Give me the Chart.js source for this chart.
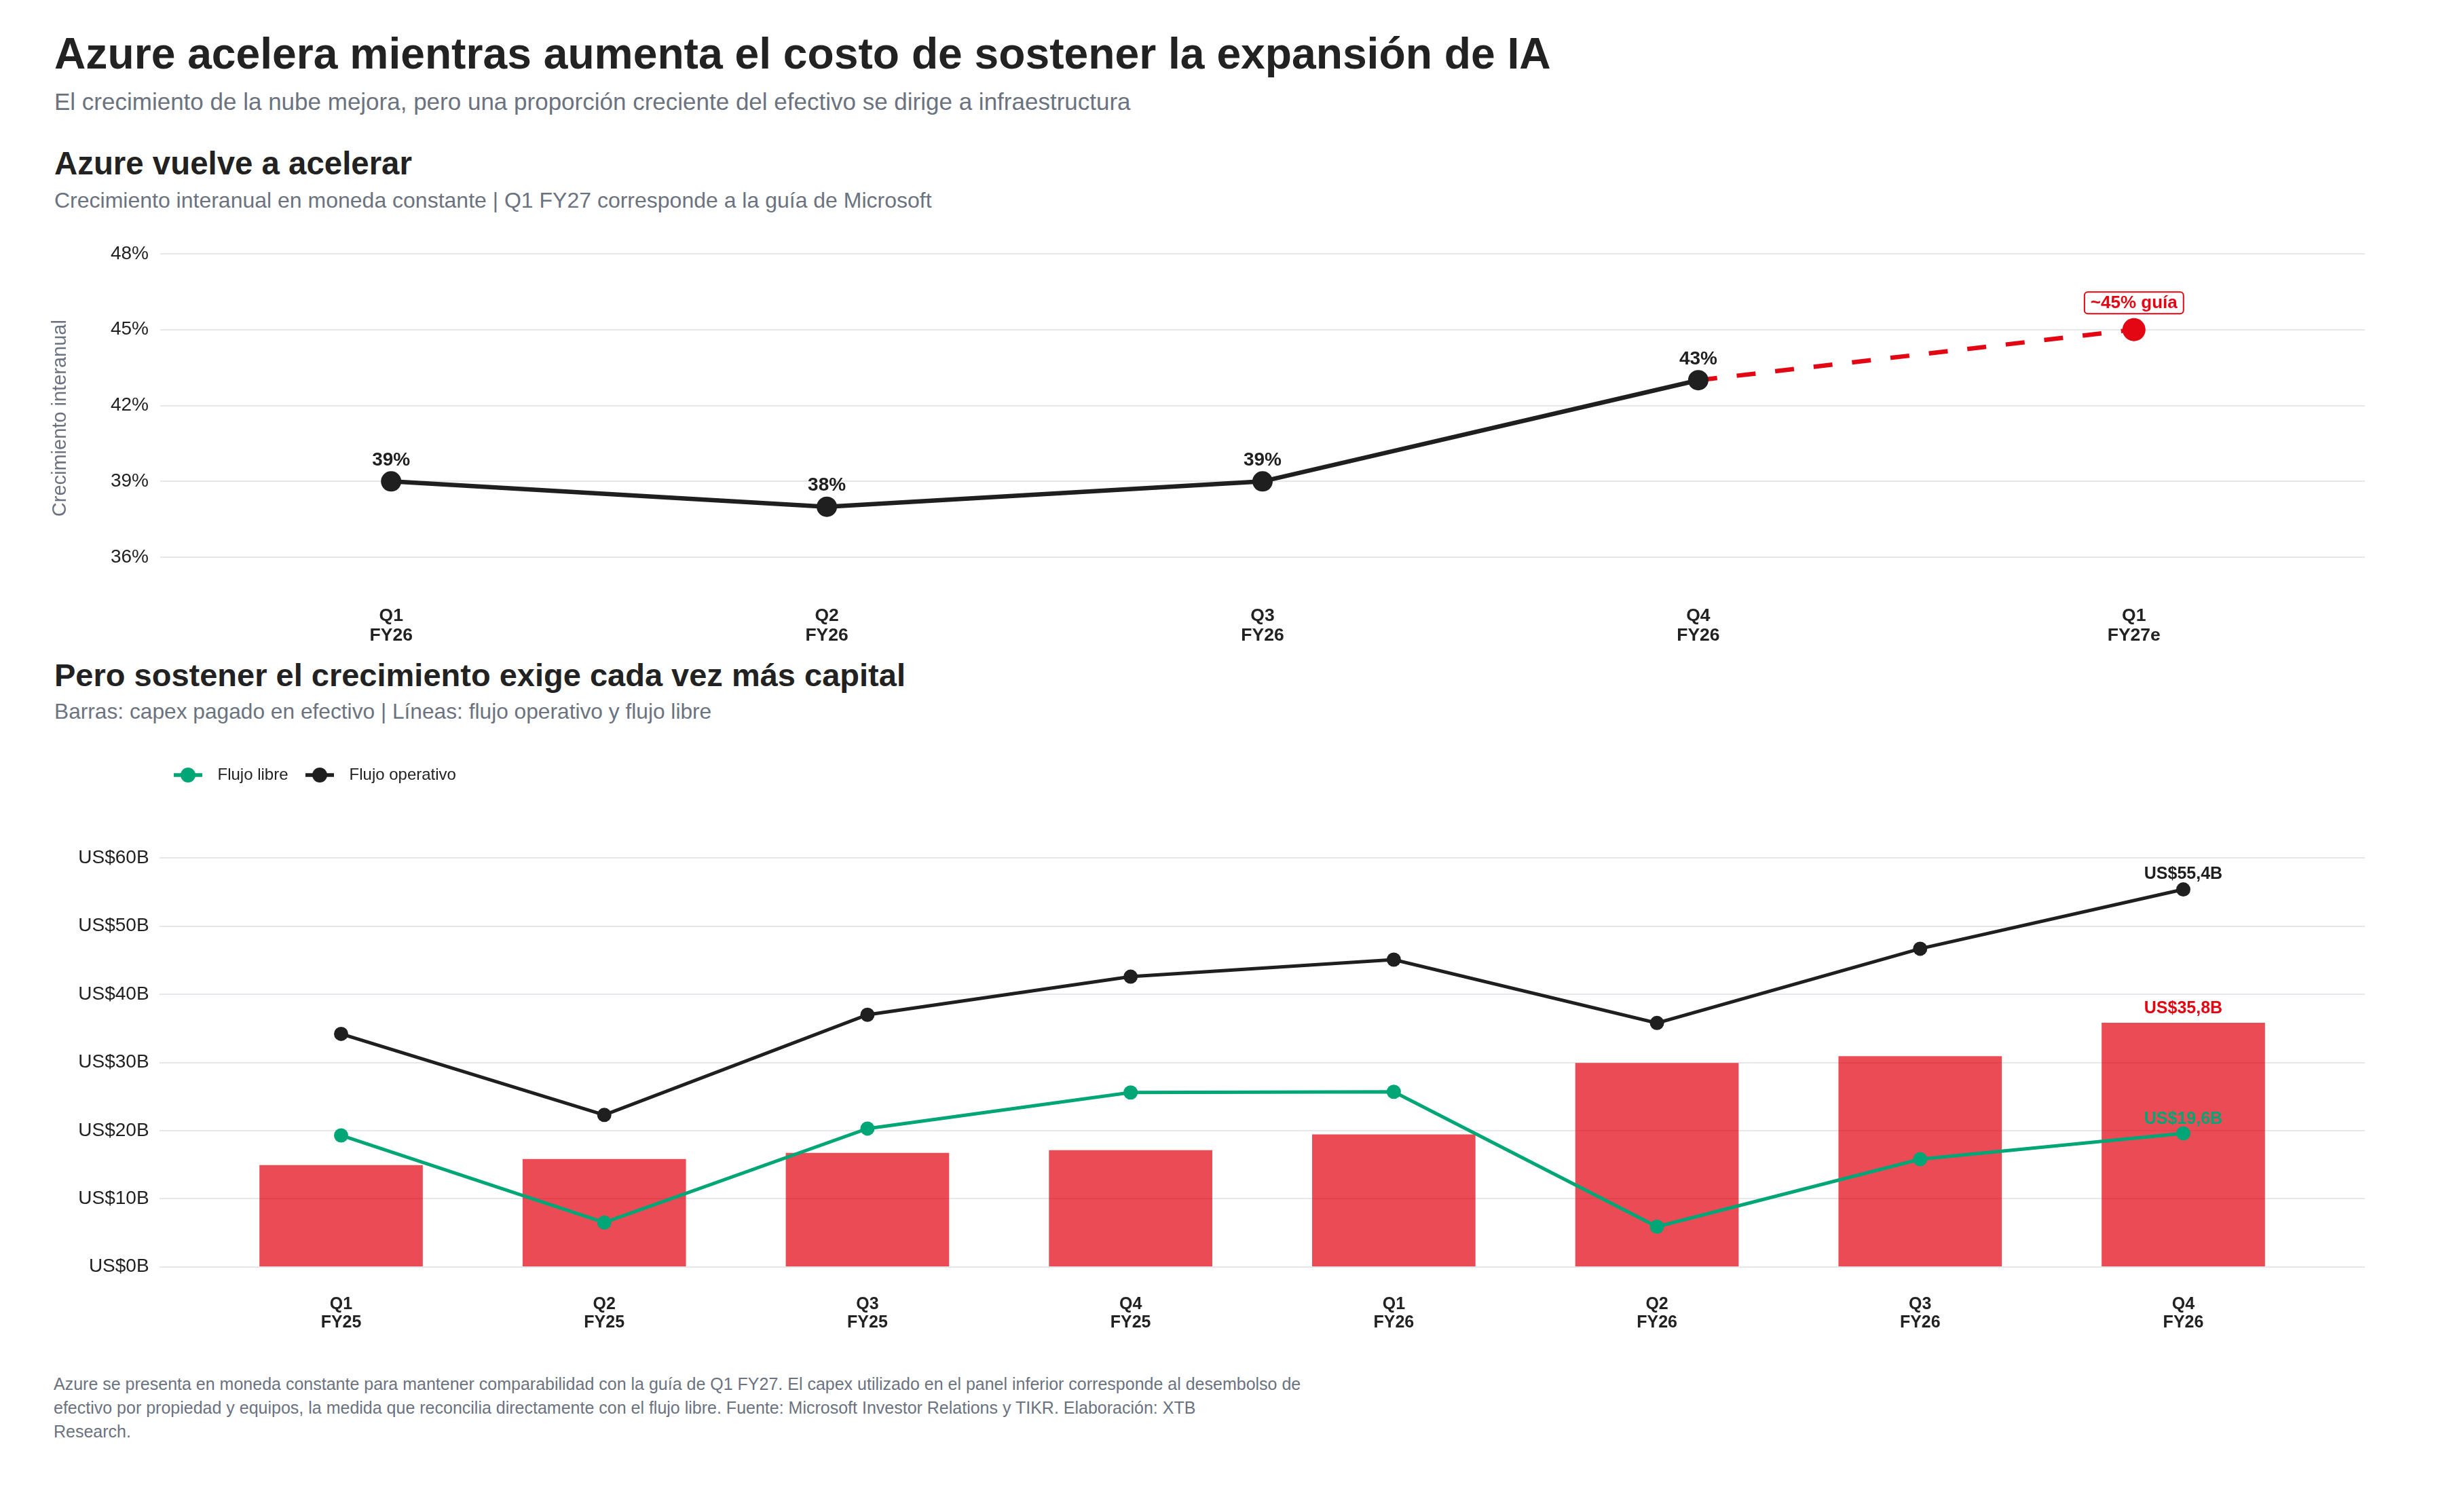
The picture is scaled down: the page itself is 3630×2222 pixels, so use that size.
<!DOCTYPE html>
<html lang="es">
<head>
<meta charset="utf-8">
<title>Azure acelera</title>
<script src="https://cdn.jsdelivr.net/npm/chart.js@4.4.1/dist/chart.umd.min.js"></script>
<style>
  html, body { margin: 0; padding: 0; background: #ffffff; }
  body { width: 3630px; height: 2222px; position: relative; overflow: hidden;
         font-family: 'Liberation Sans', Arial, Helvetica, sans-serif; }
  .t { position: absolute; left: 80px; white-space: nowrap; line-height: 1; margin: 0; }
  #mainTitle { top: 47.3px; font-size: 64.2px; font-weight: bold; color: #222222; }
  #mainSub { top: 132.1px; font-size: 35px; color: #6b7280; }
  #p1Title { top: 216.9px; font-size: 47.4px; font-weight: bold; color: #222222; }
  #p1Sub { top: 278.9px; font-size: 32px; color: #6b7280; }
  #p2Title { top: 971.2px; font-size: 47px; font-weight: bold; color: #222222; }
  #p2Sub { top: 1033.2px; font-size: 31.7px; color: #6b7280; }
  #note { position: absolute; left: 79px; top: 2022px; font-size: 25px; line-height: 35px; color: #6b7280; white-space: nowrap; }
  .wrap { position: absolute; left: 0; width: 3630px; }
  #wrap1 { top: 340px; height: 620px; }
  #wrap2 { top: 1100px; height: 887px; }
</style>
</head>
<body>
<div class="t" id="mainTitle">Azure acelera mientras aumenta el costo de sostener la expansión de IA</div>
<div class="t" id="mainSub">El crecimiento de la nube mejora, pero una proporción creciente del efectivo se dirige a infraestructura</div>
<div class="t" id="p1Title">Azure vuelve a acelerar</div>
<div class="t" id="p1Sub">Crecimiento interanual en moneda constante | Q1 FY27 corresponde a la guía de Microsoft</div>
<div class="wrap" id="wrap1"><canvas id="azureChart"></canvas></div>
<div class="t" id="p2Title">Pero sostener el crecimiento exige cada vez más capital</div>
<div class="t" id="p2Sub">Barras: capex pagado en efectivo | Líneas: flujo operativo y flujo libre</div>
<div class="wrap" id="wrap2"><canvas id="cashChart"></canvas></div>
<div id="note">Azure se presenta en moneda constante para mantener comparabilidad con la guía de Q1 FY27. El capex utilizado en el panel inferior corresponde al desembolso de<br>efectivo por propiedad y equipos, la medida que reconcilia directamente con el flujo libre. Fuente: Microsoft Investor Relations y TIKR. Elaboración: XTB<br>Research.</div>

<script>
// ---------- DATA ----------
const azureQuarters = [['Q1', 'FY26'], ['Q2', 'FY26'], ['Q3', 'FY26'], ['Q4', 'FY26'], ['Q1', 'FY27e']];
const azureGrowth = [39, 38, 39, 43, null];
const azureGuidance = [null, null, null, 43, 45];
const azureTicks = [36, 39, 42, 45, 48];

const cashQuarters = [['Q1', 'FY25'], ['Q2', 'FY25'], ['Q3', 'FY25'], ['Q4', 'FY25'],
                      ['Q1', 'FY26'], ['Q2', 'FY26'], ['Q3', 'FY26'], ['Q4', 'FY26']];
const capexPaid = [14.9, 15.8, 16.7, 17.1, 19.4, 29.9, 30.9, 35.8];
const operatingFlow = [34.2, 22.3, 37.0, 42.6, 45.1, 35.8, 46.7, 55.4];
const freeFlow = [19.3, 6.5, 20.3, 25.6, 25.7, 5.9, 15.8, 19.6];
const cashTicks = [0, 10, 20, 30, 40, 50, 60];

// ---------- STYLE ----------
const FONT = "'Liberation Sans', Arial, Helvetica, sans-serif";
const DARK = '#1f1f1f';
const RED = '#e30613';
const GREEN = '#00a676';
const GRID = '#e6e6eb';
const GRAY = '#6b7280';

Chart.defaults.font.family = FONT;
Chart.defaults.color = '#222222';
Chart.defaults.animation = false;

const toPoints = arr => arr.map((v, i) => ({ x: i, y: v })).filter(p => p.y !== null);
const fmtMoney = v => 'US$' + v.toFixed(1).replace('.', ',') + 'B';

// ---------- TOP CHART ----------
const azureLabels = {
  id: 'azureLabels',
  afterDatasetsDraw(chart) {
    const ctx = chart.ctx;
    ctx.save();
    ctx.textAlign = 'center';
    ctx.textBaseline = 'middle';
    ctx.font = 'bold 28px ' + FONT;
    ctx.fillStyle = DARK;
    const ds0 = chart.data.datasets[0].data;
    chart.getDatasetMeta(0).data.forEach((el, i) => {
      ctx.fillText(ds0[i].y + '%', el.x, el.y - 31);
    });
    const meta1 = chart.getDatasetMeta(1);
    const ds1 = chart.data.datasets[1].data;
    const el = meta1.data[meta1.data.length - 1];
    const txt = '~' + ds1[ds1.length - 1].y + '% guía';
    ctx.font = 'bold 26px ' + FONT;
    const w = ctx.measureText(txt).width + 18, h = 32;
    const cx = el.x, cy = el.y - 39.5;
    ctx.beginPath();
    ctx.roundRect(cx - w / 2, cy - h / 2, w, h, 5);
    ctx.fillStyle = '#ffffff';
    ctx.fill();
    ctx.lineWidth = 2;
    ctx.strokeStyle = RED;
    ctx.stroke();
    ctx.fillStyle = RED;
    ctx.fillText(txt, cx, cy + 1);
    ctx.restore();
  }
};

new Chart(document.getElementById('azureChart'), {
  type: 'line',
  data: {
    datasets: [
      {
        label: 'Azure',
        data: toPoints(azureGrowth),
        borderColor: DARK,
        backgroundColor: DARK,
        borderWidth: 6.5,
        pointRadius: 15,
        pointBorderWidth: 0,
        pointBackgroundColor: DARK,
        tension: 0
      },
      {
        label: 'Guía',
        data: toPoints(azureGuidance),
        borderColor: RED,
        backgroundColor: RED,
        borderWidth: 6.5,
        borderDash: [28, 29],
        pointRadius: [0, 17],
        pointBorderWidth: 0,
        pointBackgroundColor: RED,
        tension: 0
      }
    ]
  },
  options: {
    responsive: true,
    maintainAspectRatio: false,
    animation: false,
    layout: { padding: { top: 31, left: 0, right: 146, bottom: 0 } },
    plugins: { legend: { display: false }, tooltip: { enabled: false } },
    scales: {
      x: {
        type: 'linear',
        min: -0.53,
        max: 4.53,
        afterBuildTicks: axis => { axis.ticks = azureQuarters.map((q, i) => ({ value: i })); },
        afterFit: axis => { axis.height = 101.5; },
        grid: { display: false, drawTicks: false },
        border: { display: false },
        ticks: {
          autoSkip: false, maxRotation: 0, minRotation: 0, padding: 35,
          color: '#222222',
          font: { size: 26.5, weight: 'bold', lineHeight: '29px' },
          callback: v => azureQuarters[v]
        }
      },
      y: {
        min: 35,
        max: 48,
        afterBuildTicks: axis => { axis.ticks = azureTicks.map(v => ({ value: v })); },
        afterFit: axis => { axis.width = 236; },
        grid: { color: GRID, lineWidth: 2, drawTicks: false },
        border: { display: false },
        ticks: { padding: 17, color: '#222222', font: { size: 28 }, callback: v => v + '%' },
        title: {
          display: true, text: 'Crecimiento interanual', color: GRAY,
          font: { size: 29 }, padding: { top: 71.6, bottom: 0 }
        }
      }
    }
  },
  plugins: [azureLabels]
});

// ---------- BOTTOM CHART ----------
function legendMarker(color) {
  const c = document.createElement('canvas');
  c.width = 42; c.height = 24;
  const g = c.getContext('2d');
  g.strokeStyle = color; g.lineWidth = 5.5;
  g.beginPath(); g.moveTo(0, 12); g.lineTo(42, 12); g.stroke();
  g.fillStyle = color;
  g.beginPath(); g.arc(21, 12, 11, 0, Math.PI * 2); g.fill();
  return c;
}
const markers = [legendMarker(GREEN), legendMarker(DARK)];

// Legend starts at the left edge of the plot (like the reference), not at the canvas edge.
const legendIndent = {
  id: 'legendIndent',
  afterLayout(chart) {
    if (chart.legend) chart.legend.left = 230.5;
  }
};

const cashLabels = {
  id: 'cashLabels',
  afterDatasetsDraw(chart) {
    const ctx = chart.ctx;
    ctx.save();
    ctx.textAlign = 'center';
    ctx.textBaseline = 'middle';
    ctx.font = 'bold 25px ' + FONT;
    const specs = [
      { ds: 1, color: DARK, off: 22.6 },
      { ds: 2, color: RED, off: 21 },
      { ds: 0, color: GREEN, off: 21 }
    ];
    specs.forEach(s => {
      const meta = chart.getDatasetMeta(s.ds);
      const data = chart.data.datasets[s.ds].data;
      const el = meta.data[meta.data.length - 1];
      ctx.fillStyle = s.color;
      ctx.fillText(fmtMoney(data[data.length - 1].y), el.x, el.y - s.off);
    });
    ctx.restore();
  }
};

new Chart(document.getElementById('cashChart'), {
  type: 'bar',
  data: {
    datasets: [
      {
        type: 'line',
        label: 'Flujo libre',
        data: toPoints(freeFlow),
        borderColor: GREEN,
        backgroundColor: GREEN,
        borderWidth: 5,
        pointRadius: 10.5,
        pointBorderWidth: 0,
        pointBackgroundColor: GREEN,
        tension: 0
      },
      {
        type: 'line',
        label: 'Flujo operativo',
        data: toPoints(operatingFlow),
        borderColor: DARK,
        backgroundColor: DARK,
        borderWidth: 5,
        pointRadius: 10.5,
        pointBorderWidth: 0,
        pointBackgroundColor: DARK,
        tension: 0
      },
      {
        type: 'bar',
        label: 'Capex pagado',
        data: toPoints(capexPaid),
        backgroundColor: 'rgba(227, 6, 19, 0.72)',
        borderWidth: 0,
        barThickness: 240
      }
    ]
  },
  options: {
    responsive: true,
    maintainAspectRatio: false,
    animation: false,
    layout: { padding: { top: 15, left: 0, right: 146, bottom: 0 } },
    plugins: {
      tooltip: { enabled: false },
      legend: {
        display: true,
        position: 'top',
        align: 'start',
        labels: {
          usePointStyle: true,
          pointStyleWidth: 63,
          padding: 15,
          color: '#222222',
          font: { size: 24 },
          generateLabels: chart => Chart.defaults.plugins.legend.labels.generateLabels(chart)
            .filter(it => it.datasetIndex < 2)
            .map(it => Object.assign({}, it, { pointStyle: markers[it.datasetIndex] }))
        }
      }
    },
    scales: {
      x: {
        type: 'linear',
        min: -0.69,
        max: 7.69,
        offset: false,
        afterBuildTicks: axis => { axis.ticks = cashQuarters.map((q, i) => ({ value: i })); },
        afterFit: axis => { axis.height = 120.3; },
        grid: { display: false, drawTicks: false },
        border: { display: false },
        ticks: {
          autoSkip: false, maxRotation: 0, minRotation: 0, padding: 41.8,
          color: '#222222',
          font: { size: 25, weight: 'bold', lineHeight: '27px' },
          callback: v => cashQuarters[v]
        }
      },
      y: {
        min: 0,
        max: 70,
        afterBuildTicks: axis => { axis.ticks = cashTicks.map(v => ({ value: v })); },
        afterFit: axis => { axis.width = 235; },
        grid: { color: GRID, lineWidth: 2, drawTicks: false },
        border: { display: false },
        ticks: { padding: 15.4, color: '#222222', font: { size: 28 }, callback: v => 'US$' + v + 'B' }
      }
    }
  },
  plugins: [legendIndent, cashLabels]
});
</script>
</body>
</html>
